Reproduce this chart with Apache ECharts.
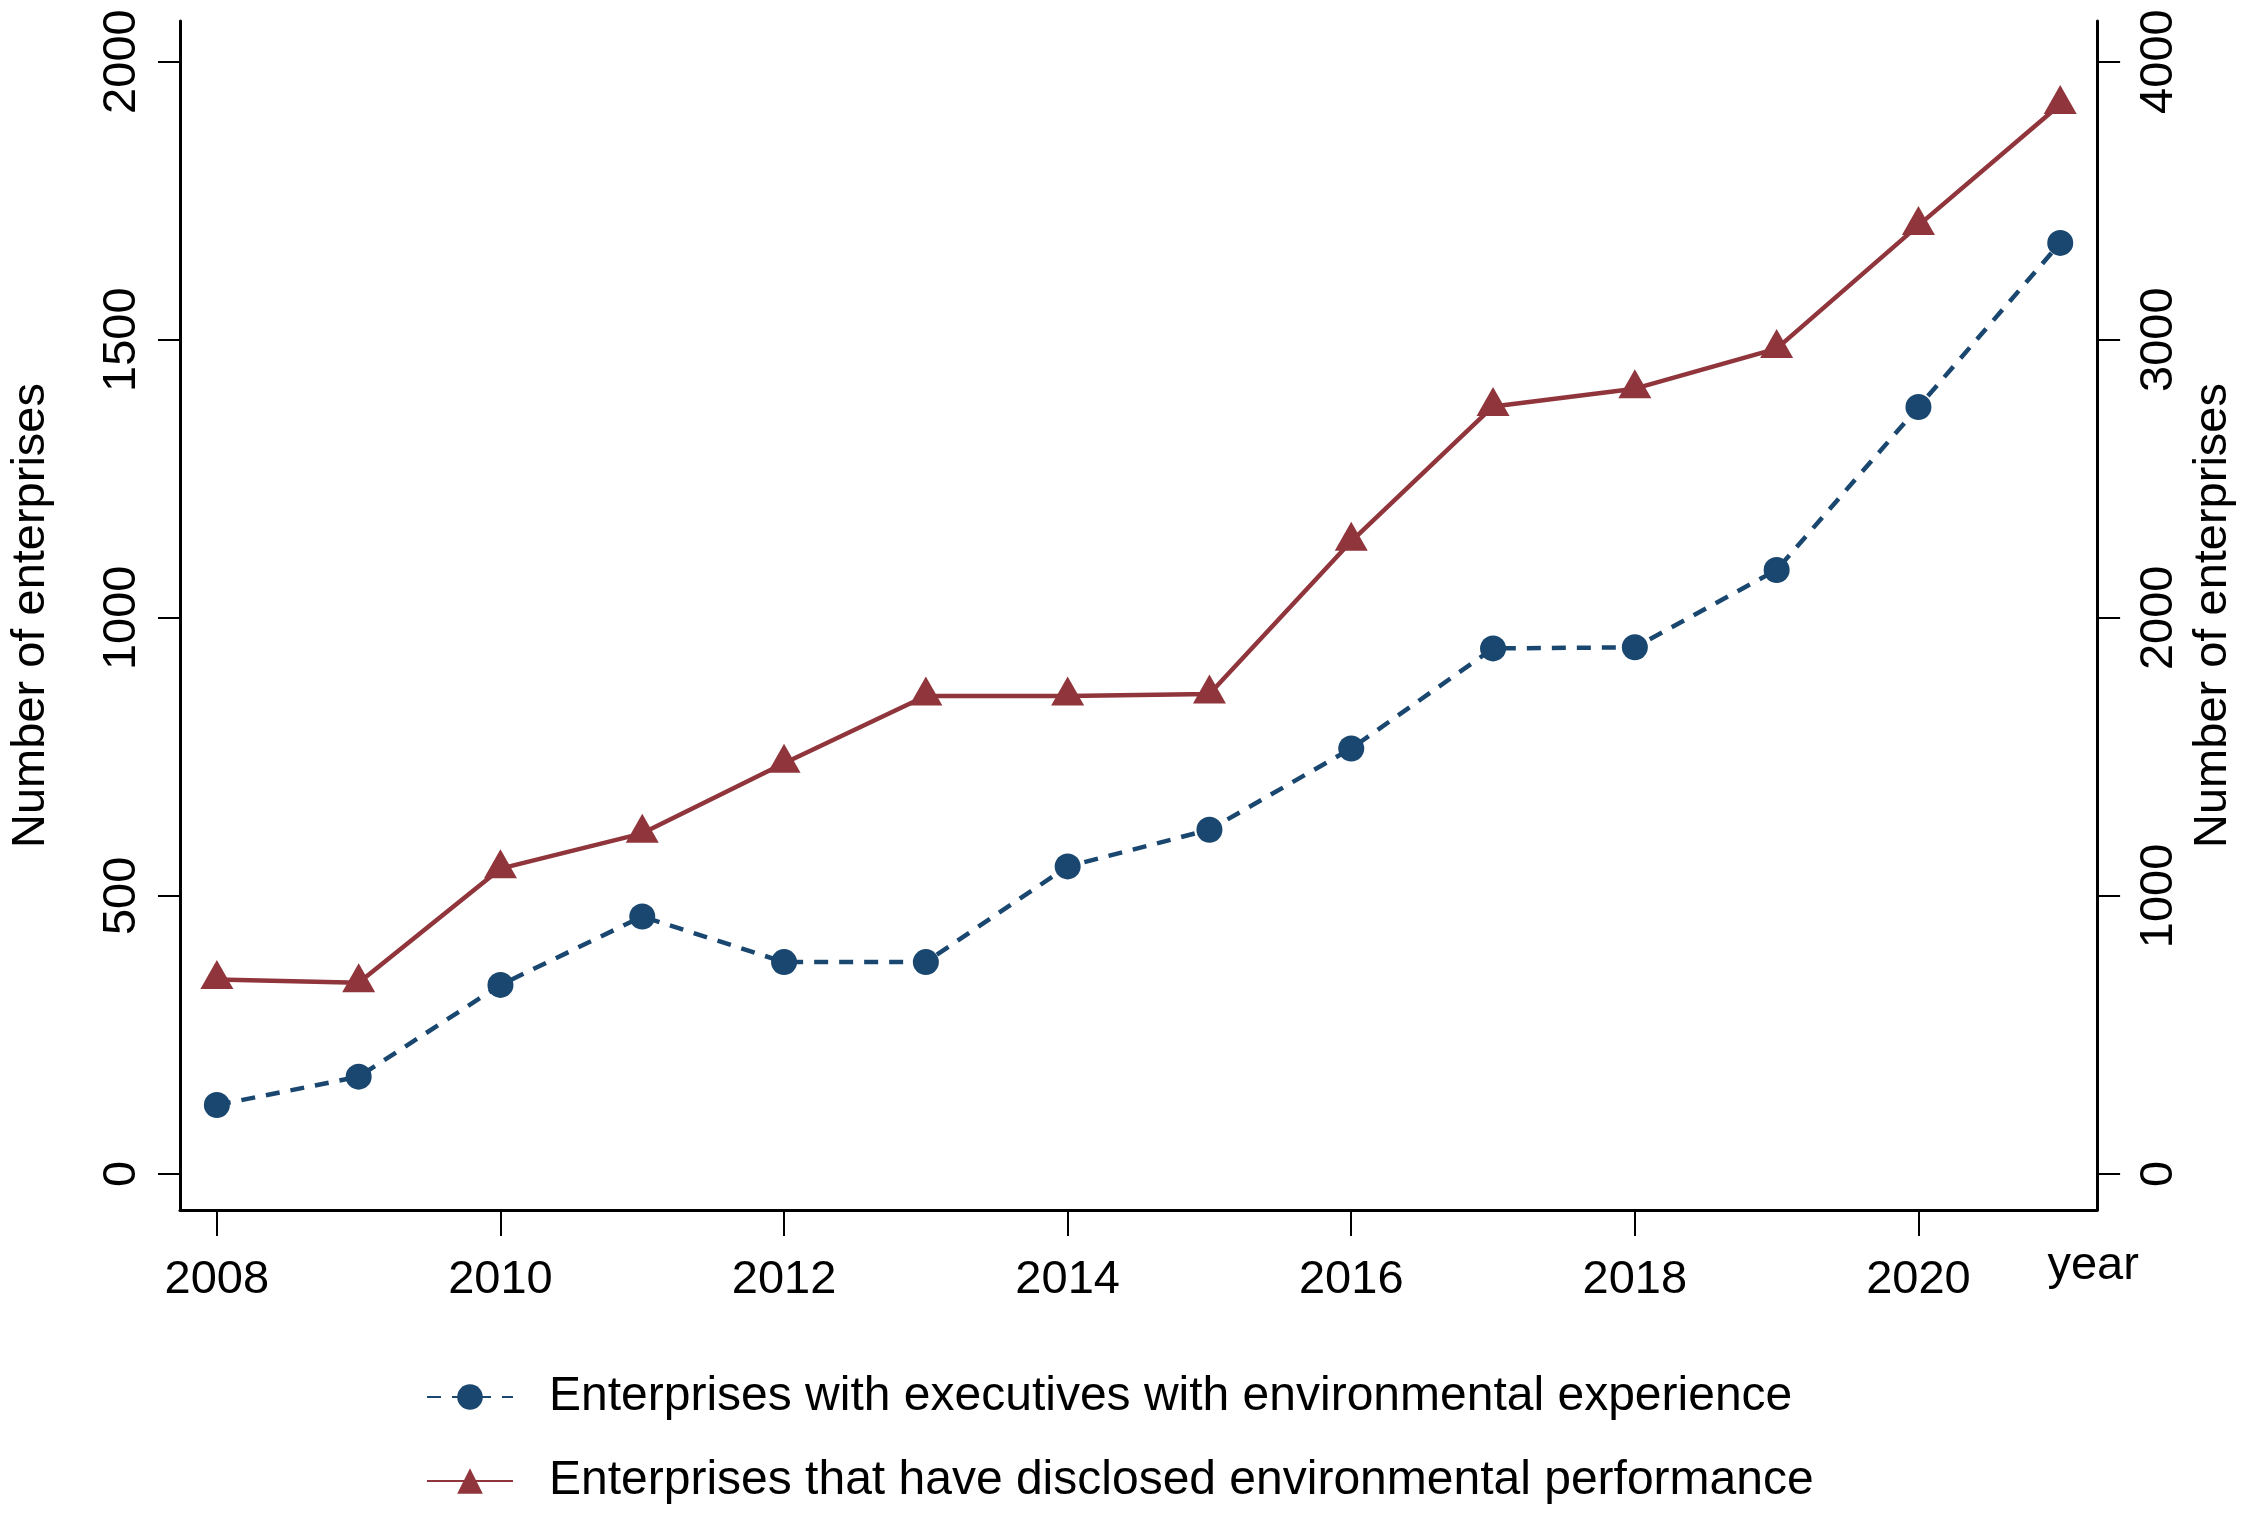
<!DOCTYPE html>
<html>
<head>
<meta charset="utf-8">
<script src="https://cdn.jsdelivr.net/npm/echarts@6/dist/echarts.min.js"></script>
<style>
html,body{margin:0;padding:0;background:#fff;}
#chart{width:2245px;height:1522px;}
</style>
</head>
<body>
<div id="chart"></div>
<script>
var years = [2008,2009,2010,2011,2012,2013,2014,2015,2016,2017,2018,2019,2020,2021];
var executivesEnv = [124,175,340,463,381,381,553,619,765,945,947,1086,1379,1674];
var disclosedEnv = [699,688,1098,1225,1477,1719,1719,1726,2275,2760,2824,2968,3411,3846];
var xTicks = [2008,2010,2012,2014,2016,2018,2020];
var leftTicks = [0,500,1000,1500,2000];
var rightTicks = [0,1000,2000,3000,4000];
var seriesNames = ['Enterprises with executives with environmental experience','Enterprises that have disclosed environmental performance'];
var yTitle = 'Number of enterprises';
var xTitle = 'year';

var FONT = 'Liberation Sans, Arial, sans-serif';
var BLUE = '#1a476f';
var RED = '#90353b';

function pairs(xs, ys){ return xs.map(function(x,i){ return [x, ys[i]]; }); }
function plain(v){ return String(v); }

var chart = echarts.init(document.getElementById('chart'));
chart.setOption({
  backgroundColor: '#fff',
  animation: false,
  grid: { left: 176, right: 147, top: 21, bottom: 312, containLabel: false },
  xAxis: {
    type: 'value',
    min: 2007.74, max: 2021.26,
    name: xTitle, nameLocation: 'end', nameGap: -4,
    nameTextStyle: { fontFamily: FONT, fontSize: 47, color: '#000', align: 'center', verticalAlign: 'top', padding: [33,0,0,0] },
    axisLine: { show: true, onZero: false, lineStyle: { color: '#000', width: 3 } },
    axisTick: { show: true, length: 26, lineStyle: { color: '#000', width: 2 }, customValues: xTicks },
    axisLabel: { show: true, customValues: xTicks, margin: 47, fontFamily: FONT, fontSize: 47, color: '#000', formatter: plain },
    splitLine: { show: false }
  },
  yAxis: [
    {
      type: 'value', position: 'left',
      min: -64.7, max: 2073,
      name: yTitle, nameLocation: 'middle', nameGap: 125, nameRotate: 90,
      nameTextStyle: { fontFamily: FONT, fontSize: 47, color: '#000' },
      axisLine: { show: true, onZero: false, lineStyle: { color: '#000', width: 3 } },
      axisTick: { show: true, length: 22, lineStyle: { color: '#000', width: 2 }, customValues: leftTicks },
      axisLabel: { show: true, customValues: leftTicks, rotate: 90, margin: 34, fontFamily: FONT, fontSize: 47, color: '#000', formatter: plain },
      splitLine: { show: false }
    },
    {
      type: 'value', position: 'right',
      min: -129.4, max: 4146,
      name: yTitle, nameLocation: 'middle', nameGap: 78, nameRotate: 90,
      nameTextStyle: { fontFamily: FONT, fontSize: 47, color: '#000' },
      axisLine: { show: true, onZero: false, lineStyle: { color: '#000', width: 3 } },
      axisTick: { show: true, length: 23, lineStyle: { color: '#000', width: 2 }, customValues: rightTicks },
      axisLabel: { show: true, customValues: rightTicks, rotate: 90, margin: 38, fontFamily: FONT, fontSize: 47, color: '#000', formatter: plain },
      splitLine: { show: false }
    }
  ],
  legend: {
    orient: 'vertical',
    left: 421, top: 1368,
    itemWidth: 86, itemHeight: 32, itemGap: 36,
    textStyle: { fontFamily: FONT, fontSize: 48, color: '#000', padding: [0,0,0,31] },
    data: seriesNames
  },
  series: [
    {
      name: seriesNames[0], type: 'line', yAxisIndex: 0,
      data: pairs(years, executivesEnv),
      symbol: 'circle', symbolSize: 26,
      itemStyle: { color: BLUE },
      lineStyle: { color: BLUE, width: 4.5, type: [14, 11] }
    },
    {
      name: seriesNames[1], type: 'line', yAxisIndex: 1,
      data: pairs(years, disclosedEnv),
      symbol: 'triangle', symbolSize: [33, 29], symbolOffset: [0, -5],
      itemStyle: { color: RED },
      lineStyle: { color: RED, width: 4.5 }
    }
  ]
});
</script>
</body>
</html>
